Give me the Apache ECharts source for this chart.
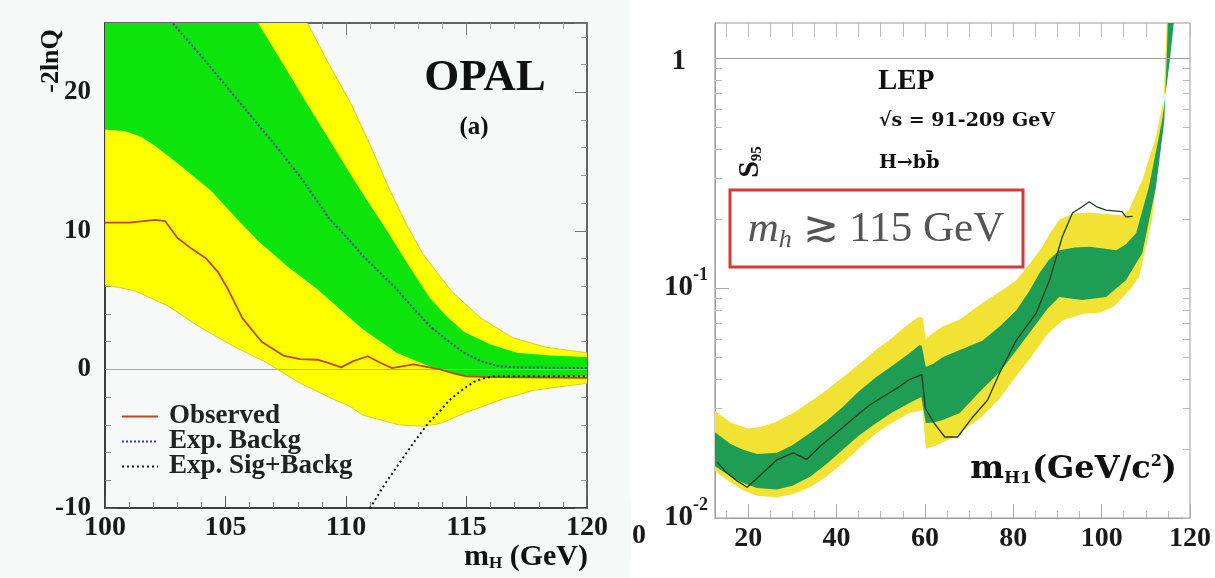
<!DOCTYPE html>
<html><head><meta charset="utf-8">
<script src="https://cdn.jsdelivr.net/npm/echarts@6/dist/echarts.min.js"></script>
<style>html,body{margin:0;padding:0;background:#f7f9f8;}#c{width:1215px;height:578px;}</style>
</head><body><div id="c"></div>
<script>
// ---------- LEFT PANEL (OPAL, -2lnQ vs mH) ----------
var leftXTicks = [100, 105, 110, 115, 120];
var leftYTicks = [-10, 0, 10, 20];
var L2sUpper = [[100,27],[107,27],[108.4,25],[109.3,22],[110.2,19.2],[111,16.2],[111.8,13.0],[112.5,10.5],[113.2,8.3],[114.4,5.6],[115.6,3.7],[116.9,2.3],[118.3,1.6],[120,1.2]];
var L2sLower = [[100,6.1],[101.2,5.7],[102.6,4.6],[103.9,3.1],[105.3,1.7],[106.7,0.5],[108.1,-1.0],[109.3,-2.0],[110.2,-2.7],[110.7,-3.3],[112.2,-4.0],[113.2,-4.1],[113.9,-3.9],[115,-3.1],[116.4,-2.2],[117.8,-1.5],[120,-1.0]];
var L1sUpper = [[100,27],[106,27],[106.35,25],[107.3,22.3],[108.3,19.4],[109.3,16.6],[110.5,13.2],[111.7,10.0],[112.6,7.5],[113.5,5.1],[114.2,3.8],[114.9,2.7],[116,1.8],[117.1,1.2],[118.5,1.0],[120,0.9]];
var L1sLower = [[100,17.3],[100.8,17.2],[101.5,16.8],[102.1,16.1],[103.2,14.6],[104.4,12.9],[105.4,11.0],[106.4,9.2],[107.6,7.4],[108.8,5.8],[110.2,3.65],[110.7,2.9],[112.1,1.2],[113.5,0.2],[114.9,-0.45],[116.3,-0.6],[118,-0.55],[120,-0.5]];
var LObserved = [[100,10.6],[101,10.6],[102.1,10.8],[102.5,10.7],[103,9.5],[103.6,8.7],[104.2,8.0],[104.7,7.0],[105.1,5.8],[105.7,3.7],[106.5,2.0],[107.4,1.0],[108.1,0.75],[108.8,0.7],[109.3,0.45],[109.8,0.15],[110.3,0.6],[110.9,0.95],[111.4,0.5],[111.9,0.1],[112.8,0.36],[113.3,0.2],[113.9,0.0],[114.5,-0.3],[115,-0.5],[116,-0.55],[120,-0.6]];
var LExpBackg = [[102.5,25.6],[102.8,25],[104,22.6],[105,20.5],[106,18.4],[107.1,16.1],[108.1,13.9],[109.3,10.9],[110.2,9.2],[110.7,8.2],[111.4,7.0],[112.1,5.8],[112.8,4.4],[113.5,3.1],[114.2,2.1],[114.9,1.2],[115.6,0.6],[116.3,0.25],[117,0.15],[120,0.1]];
var LExpSigBackg = [[110.85,-10.3],[111,-10],[111.6,-8.3],[112.2,-6.8],[112.8,-5.3],[113.4,-3.9],[113.9,-3.0],[114.3,-2.2],[114.8,-1.5],[115.3,-0.9],[115.7,-0.65],[116.1,-0.5],[120,-0.5]];

// ---------- RIGHT PANEL (LEP, S95 vs mH1) ----------
var rightXTicks = [20, 40, 60, 80, 100, 120];
var rightXMinor = [15, 25, 30, 35, 45, 50, 55, 65, 70, 75, 85, 90, 95, 105, 110, 115];
var rightYTicks = [0.01, 0.1, 1];
var rightYMinor = [0.02,0.03,0.04,0.05,0.06,0.07,0.08,0.09,0.2,0.3,0.4,0.5,0.6,0.7,0.8,0.9];
var R2sUpper = [[12.5,0.0292],[16,0.026],[20,0.0245],[22.7,0.0249],[26,0.026],[30.2,0.0286],[34,0.032],[37.8,0.036],[41.5,0.041],[45.3,0.047],[49,0.054],[52.7,0.061],[56,0.069],[58.6,0.075],[59.5,0.074],[60.2,0.060],[61.5,0.063],[64,0.068],[67.9,0.073],[73,0.086],[76.9,0.096],[80.7,0.108],[83.5,0.126],[86.6,0.151],[88.5,0.175],[90.4,0.198],[93.4,0.21],[97,0.213],[101,0.21],[104.6,0.207],[106.2,0.218],[109.2,0.295],[112.3,0.454],[114.6,0.748],[115.9,1.32],[116.6,2.0]];
var R2sLower = [[12.5,0.0160],[16,0.0143],[18.9,0.0132],[22,0.0125],[26.5,0.0123],[30,0.0127],[34,0.0136],[37.8,0.0152],[41.4,0.0173],[45,0.020],[49,0.0234],[52.7,0.026],[56.5,0.0286],[59.5,0.0295],[60.2,0.0200],[62,0.0205],[65.1,0.0218],[68,0.0235],[72.8,0.0275],[76.9,0.033],[80.5,0.041],[84,0.050],[87.7,0.063],[91,0.072],[95.4,0.077],[99.5,0.078],[102.8,0.083],[106.7,0.100],[108.5,0.112],[111.4,0.198],[113.7,0.486],[114.6,1.2],[115,2.0]];
var R1sUpper = [[12.5,0.0236],[16,0.021],[18.9,0.0198],[22,0.019],[26.5,0.0192],[30,0.0207],[34,0.0234],[37.8,0.0265],[41.4,0.0304],[45,0.0355],[49,0.041],[52.7,0.046],[56.5,0.052],[58.8,0.0565],[59.3,0.056],[60.2,0.0454],[62,0.047],[64,0.050],[67.9,0.0537],[73,0.059],[76.9,0.068],[80.7,0.080],[83.5,0.096],[85.9,0.116],[88,0.132],[90.4,0.146],[94,0.150],[97.2,0.151],[100,0.149],[103.3,0.146],[105.5,0.155],[107.8,0.173],[110.7,0.275],[113.7,0.537],[115.5,1.0],[116.6,1.6],[117,2.0]];
var R1sLower = [[12.5,0.0168],[16,0.0152],[18.9,0.0142],[22,0.0135],[26.5,0.0133],[30,0.0138],[34,0.0151],[37.8,0.0172],[41.4,0.0198],[45,0.0228],[49,0.0259],[52.7,0.0288],[56.5,0.0316],[59.2,0.0336],[60.2,0.0259],[62,0.026],[64,0.0267],[67.9,0.0286],[72.8,0.036],[76.9,0.043],[80.5,0.053],[84,0.065],[87.7,0.081],[90.4,0.0914],[95.6,0.0886],[101,0.0914],[105.5,0.108],[109.2,0.142],[112.3,0.275],[114.2,0.537],[114.8,1.1],[115.2,2.0]];
var RObserved = [[13,0.0175],[15,0.0158],[17.5,0.0145],[19.8,0.0136],[23,0.0155],[26.5,0.0179],[30.2,0.0192],[33.3,0.0180],[36.3,0.0205],[40,0.0235],[43.7,0.027],[47.5,0.031],[51.4,0.0345],[54,0.037],[56.5,0.040],[59.3,0.042],[60.1,0.030],[62,0.026],[64.5,0.0225],[67.4,0.0225],[70.5,0.027],[74.2,0.0326],[76.9,0.0427],[80.7,0.0594],[85.2,0.0778],[88.2,0.108],[91.1,0.167],[93.4,0.212],[95.5,0.225],[97.2,0.237],[98.8,0.226],[101,0.218],[104.6,0.215],[105.5,0.204],[107,0.205]];

var SERIF = '"Liberation Serif", "DejaVu Serif", serif';
var chart = echarts.init(document.getElementById('c'), null, {renderer: 'canvas'});

function band(upper, lower, fill, stroke, xi, yi, z) {
  return {
    type: 'custom', xAxisIndex: xi, yAxisIndex: yi, clip: true, silent: true, z: z,
    data: [[upper[upper.length - 1][0], upper[upper.length - 1][1]]],
    renderItem: function (params, api) {
      var pts = [];
      for (var i = 0; i < upper.length; i++) pts.push(api.coord(upper[i]));
      for (var j = lower.length - 1; j >= 0; j--) pts.push(api.coord(lower[j]));
      return {type: 'polygon', shape: {points: pts}, style: {fill: fill, stroke: stroke, lineWidth: stroke ? 1 : 0}};
    }
  };
}

function numLabel(size) {
  return {fontFamily: SERIF, fontWeight: 'bold', fontSize: size, color: '#1a1a1a'};
}

var option = {
  animation: false,
  backgroundColor: '#f7f9f8',
  grid: [
    {left: 105, top: 23, width: 482, height: 485, show: true, borderColor: '#333', borderWidth: 1.5, backgroundColor: 'rgba(0,0,0,0)'},
    {left: 715, top: 23, width: 475, height: 495, show: true, borderColor: '#9a9a9a', borderWidth: 1, backgroundColor: '#ffffff'}
  ],
  xAxis: [
    {gridIndex: 0, type: 'value', min: 100, max: 120, interval: 5, position: 'bottom',
     axisLine: {show: true, onZero: false, lineStyle: {color: '#333', width: 1.5}},
     axisTick: {inside: true, length: 12, lineStyle: {color: '#555'}},
     minorTick: {show: true, splitNumber: 5, length: 6, lineStyle: {color: '#777'}},
     splitLine: {show: false},
     axisLabel: Object.assign({margin: 6, formatter: function (v) { return leftXTicks.indexOf(v) >= 0 ? String(v) : ''; }}, numLabel(28))},
    {gridIndex: 0, type: 'value', min: 100, max: 120, interval: 5, position: 'top',
     axisLine: {show: false, onZero: false}, axisTick: {inside: true, length: 12, lineStyle: {color: '#777'}},
     minorTick: {show: true, splitNumber: 5, length: 6, lineStyle: {color: '#999'}},
     splitLine: {show: false}, axisLabel: {show: false}},
    {gridIndex: 1, type: 'value', min: 12.5, max: 120, position: 'bottom',
     axisLine: {show: true, onZero: false, lineStyle: {color: '#9a9a9a'}},
     axisTick: {inside: true, length: 14, customValues: rightXTicks, lineStyle: {color: '#aaa'}},
     splitLine: {show: false},
     axisLabel: Object.assign({margin: 7, customValues: rightXTicks}, numLabel(28))},
    {gridIndex: 1, type: 'value', min: 12.5, max: 120, position: 'bottom',
     axisLine: {show: false, onZero: false},
     axisTick: {inside: true, length: 7, customValues: rightXMinor, lineStyle: {color: '#bbb'}},
     splitLine: {show: false}, axisLabel: {show: false}},
    {gridIndex: 1, type: 'value', min: 12.5, max: 120, position: 'top',
     axisLine: {show: false, onZero: false},
     axisTick: {inside: true, length: 14, customValues: rightXTicks.concat(rightXMinor), lineStyle: {color: '#bbb'}},
     splitLine: {show: false}, axisLabel: {show: false}}
  ],
  yAxis: [
    {gridIndex: 0, type: 'value', min: -10, max: 25, interval: 10, position: 'left',
     axisLine: {show: true, onZero: false, lineStyle: {color: '#333', width: 1.5}},
     axisTick: {inside: true, length: 12, lineStyle: {color: '#555'}},
     minorTick: {show: true, splitNumber: 5, length: 6, lineStyle: {color: '#888'}},
     splitLine: {show: false},
     axisLabel: Object.assign({margin: 14, formatter: function (v) { return leftYTicks.indexOf(v) >= 0 ? String(v) : ''; }}, numLabel(27))},
    {gridIndex: 0, type: 'value', min: -10, max: 25, interval: 10, position: 'right',
     axisLine: {show: false, onZero: false}, axisTick: {inside: true, length: 12, lineStyle: {color: '#777'}},
     minorTick: {show: true, splitNumber: 5, length: 6, lineStyle: {color: '#999'}},
     splitLine: {show: false}, axisLabel: {show: false}},
    {gridIndex: 1, type: 'log', logBase: 10, min: 0.01, max: 1.42, position: 'left',
     axisLine: {show: true, onZero: false, lineStyle: {color: '#9a9a9a'}},
     axisTick: {inside: true, length: 14, customValues: rightYTicks, lineStyle: {color: '#aaa'}},
     splitLine: {show: false},
     axisLabel: {margin: 7, customValues: rightYTicks,
       formatter: function (v) {
         var l = Math.round(Math.log(v) / Math.LN10);
         if (l === 0) return '{one|1}';
         return '{b|10}{e|' + l + '}';
       },
       rich: {
         b: {fontFamily: SERIF, fontWeight: 'bold', fontSize: 29, color: '#1a1a1a'},
         e: {fontFamily: SERIF, fontWeight: 'bold', fontSize: 18, color: '#1a1a1a', padding: [0, 0, 26, 0]},
         one: {fontFamily: SERIF, fontWeight: 'bold', fontSize: 29, color: '#1a1a1a', padding: [6, 22, 0, 0]}
       }}},
    {gridIndex: 1, type: 'log', logBase: 10, min: 0.01, max: 1.42, position: 'left',
     axisLine: {show: false, onZero: false},
     axisTick: {inside: true, length: 7, customValues: rightYMinor, lineStyle: {color: '#bbb'}},
     splitLine: {show: false}, axisLabel: {show: false}},
    {gridIndex: 1, type: 'log', logBase: 10, min: 0.01, max: 1.42, position: 'right',
     axisLine: {show: false, onZero: false},
     axisTick: {inside: true, length: 7, customValues: rightYTicks.concat(rightYMinor), lineStyle: {color: '#bbb'}},
     splitLine: {show: false}, axisLabel: {show: false}}
  ],
  legend: {
    data: ['Observed', 'Exp. Backg', 'Exp. Sig+Backg'],
    orient: 'vertical', left: 116, top: 398, itemWidth: 36, itemHeight: 10, itemGap: -2,
    itemStyle: {opacity: 0},
    textStyle: {fontFamily: SERIF, fontWeight: 'bold', fontSize: 27, color: '#222', padding: [0, 0, 0, 6]},
    selectedMode: false
  },
  series: [
    {type: 'line', name: 'zero', xAxisIndex: 0, yAxisIndex: 0, data: [], z: 0,
     markLine: {silent: true, symbol: 'none', label: {show: false}, lineStyle: {color: '#a9aca9', type: 'solid', width: 1}, data: [{yAxis: 0}]}},
    band(L2sUpper, L2sLower, '#ffff00', '#d8cc30', 0, 0, 1),
    band(L1sUpper, L1sLower, '#0ce40c', null, 0, 0, 2),
    {type: 'line', name: 'Observed', xAxisIndex: 0, yAxisIndex: 0, data: LObserved, symbol: 'none', showSymbol: false, z: 5,
     lineStyle: {color: '#c0461c', width: 1.8}, itemStyle: {color: '#c0461c'}},
    {type: 'line', name: 'Exp. Backg', xAxisIndex: 0, yAxisIndex: 0, data: LExpBackg, symbol: 'none', showSymbol: false, z: 5,
     lineStyle: {color: '#3b3f8f', width: 2, type: [2, 2]}, itemStyle: {color: '#3b3f8f'}},
    {type: 'line', name: 'Exp. Sig+Backg', xAxisIndex: 0, yAxisIndex: 0, data: LExpSigBackg, symbol: 'none', showSymbol: false, z: 5,
     lineStyle: {color: '#1a1a1a', width: 2, type: [2, 3]}, itemStyle: {color: '#1a1a1a'}},

    {type: 'line', name: 'one', xAxisIndex: 2, yAxisIndex: 2, data: [], z: 0,
     markLine: {silent: true, symbol: 'none', label: {show: false}, lineStyle: {color: '#a0a0a0', type: 'solid', width: 1}, data: [{yAxis: 1}]}},
    band(R2sUpper, R2sLower, '#f1e233', null, 2, 2, 1),
    band(R1sUpper, R1sLower, '#1f9d55', null, 2, 2, 2),
    {type: 'line', name: 'LEP observed', xAxisIndex: 2, yAxisIndex: 2, data: RObserved, symbol: 'none', z: 5,
     lineStyle: {color: '#203a22', width: 1.3}}
  ],
  graphic: [
    {type: 'rect', z: -1, silent: true, shape: {x: 630, y: 0, width: 585, height: 578}, style: {fill: '#ffffff'}},
    {type: 'text', x: 646, y: 536, style: {text: '0', font: 'bold 28px ' + SERIF, fill: '#1a1a1a', textAlign: 'right', textVerticalAlign: 'middle'}},
    {type: 'rect', silent: true, shape: {x: 600, y: 500, width: 31, height: 60}, style: {fill: '#f7f9f8'}},
    {type: 'text', x: 485, y: 78, style: {text: 'OPAL', font: 'bold 45px ' + SERIF, fill: '#111', textAlign: 'center', textVerticalAlign: 'middle'}},
    {type: 'text', x: 474, y: 128, style: {text: '(a)', font: 'bold 25px ' + SERIF, fill: '#111', textAlign: 'center', textVerticalAlign: 'middle'}},
    {type: 'text', x: 51, y: 61, rotation: Math.PI / 2, style: {text: '-2lnQ', font: 'bold 26px ' + SERIF, fill: '#111', textAlign: 'center', textVerticalAlign: 'middle'}},
    {type: 'text', x: 588, y: 557, style: {text: '{m|m}{s|H}{t| (GeV)}', textAlign: 'right', textVerticalAlign: 'middle',
      rich: {m: {font: 'bold 30px ' + SERIF, fill: '#111'}, s: {font: 'bold 17px ' + SERIF, fill: '#111', padding: [14, 0, 0, 0]}, t: {font: 'bold 30px ' + SERIF, fill: '#111'}}}},

    {type: 'text', x: 750, y: 162, rotation: Math.PI / 2, style: {text: '{S|S}{s|95}', textAlign: 'center', textVerticalAlign: 'middle',
      rich: {S: {font: 'bold 30px ' + SERIF, fill: '#111'}, s: {font: 'bold 15px ' + SERIF, fill: '#111', padding: [14, 0, 0, 0]}}}},
    {type: 'text', x: 878, y: 82, style: {text: 'LEP', font: 'bold 29px ' + SERIF, fill: '#111', textAlign: 'left', textVerticalAlign: 'middle'}},
    {type: 'text', x: 879, y: 121, style: {text: '\u221As = 91-209 GeV', font: 'bold 19px "DejaVu Serif", serif', fill: '#111', textAlign: 'left', textVerticalAlign: 'middle'}},
    {type: 'text', x: 879, y: 163, style: {text: 'H\u2192bb\u0304', font: 'bold 19px "DejaVu Serif", serif', fill: '#111', textAlign: 'left', textVerticalAlign: 'middle'}},
    {type: 'rect', z: 10, shape: {x: 730, y: 190, width: 293, height: 77}, style: {fill: '#ffffff', stroke: '#d43a3a', lineWidth: 3}},
    {type: 'text', z: 11, x: 876, y: 230, style: {text: '{m|m}{h|h}{r| \u2273 115 GeV}', textAlign: 'center', textVerticalAlign: 'middle',
      rich: {m: {font: 'italic 43px ' + SERIF, fill: '#555'}, h: {font: 'italic 26px ' + SERIF, fill: '#555', padding: [20, 0, 0, 0]}, r: {font: '43px ' + SERIF, fill: '#555'}}}},
    {type: 'text', x: 1177, y: 470, style: {text: '{m|m}{s|H1}{t|(GeV/c}{e|2}{t|)}', textAlign: 'right', textVerticalAlign: 'middle',
      rich: {m: {font: 'bold 32px "DejaVu Serif", serif', fill: '#111'}, s: {font: 'bold 17px "DejaVu Serif", serif', fill: '#111', padding: [18, 0, 0, 0]},
             t: {font: 'bold 32px "DejaVu Serif", serif', fill: '#111'}, e: {font: 'bold 16px "DejaVu Serif", serif', fill: '#111', padding: [0, 0, 16, 0]}}}}
  ]
};
chart.setOption(option);
</script></body></html>
